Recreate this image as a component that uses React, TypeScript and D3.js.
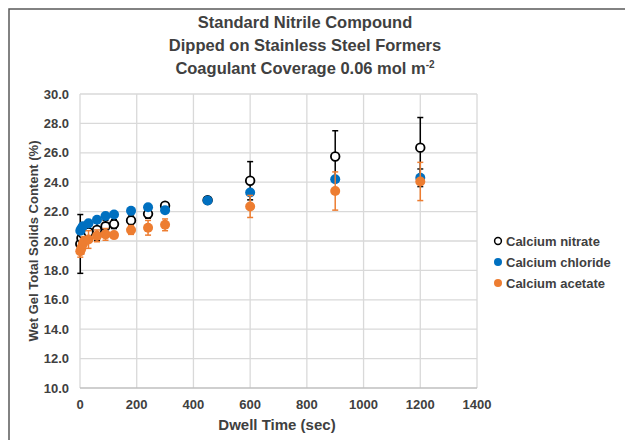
import React from "react";
import * as d3 from "d3";

const titleLines = ["Standard Nitrile Compound", "Dipped on Stainless Steel Formers", "Coagulant Coverage 0.06 mol m"];
const xTicks = [0, 200, 400, 600, 800, 1000, 1200, 1400];
const yTicks = [10, 12, 14, 16, 18, 20, 22, 24, 26, 28, 30];

const nitrateT = [1, 5, 10, 30, 60, 90, 120, 180, 240, 300, 450, 600, 900, 1200];
const nitrateV = [19.8, 20.2, 20.5, 20.6, 20.75, 21.0, 21.15, 21.4, 21.85, 22.4, 22.78, 24.1, 25.75, 26.35];
const nitrateE = [2.0, 0.5, 0.4, 0.5, 0.7, 0.4, 0.3, 0.3, 0.3, 0.2, 0.1, 1.3, 1.75, 2.05];

const chlorideT = [1, 5, 10, 30, 60, 90, 120, 180, 240, 300, 450, 600, 900, 1200];
const chlorideV = [20.7, 20.85, 21.0, 21.2, 21.45, 21.7, 21.8, 22.05, 22.3, 22.1, 22.76, 23.3, 24.2, 24.3];
const chlorideE = [0.15, 0.15, 0.15, 0.15, 0.15, 0.15, 0.1, 0.1, 0.1, 0.1, 0.05, 0.1, 0.1, 0.6];

const acetateT = [1, 5, 10, 15, 30, 60, 90, 120, 180, 240, 300, 600, 900, 1200];
const acetateV = [19.3, 19.5, 19.8, 20.0, 20.1, 20.35, 20.45, 20.4, 20.75, 20.9, 21.1, 22.35, 23.4, 24.05];
const acetateE = [0.4, 0.4, 0.3, 0.3, 0.6, 0.4, 0.4, 0.2, 0.3, 0.5, 0.4, 0.75, 1.3, 1.3];

const seriesNames = ["Calcium nitrate", "Calcium chloride", "Calcium acetate"];

const FONT = "'Liberation Sans', Arial, sans-serif";
const TXT = "#404040";

export default function App() {
  const x = d3.scaleLinear().domain([0, 1400]).range([80, 477]);
  const y = d3.scaleLinear().domain([10, 30]).range([388, 94]);

  const series = [
    { name: seriesNames[0], t: nitrateT, v: nitrateV, e: nitrateE, fill: "#ffffff", stroke: "#000000", sw: 1.8, err: "#000000" },
    { name: seriesNames[1], t: chlorideT, v: chlorideV, e: chlorideE, fill: "#0070C0", stroke: "#0070C0", sw: 0, err: "#1a1a1a" },
    { name: seriesNames[2], t: acetateT, v: acetateV, e: acetateE, fill: "#ED7D31", stroke: "#ED7D31", sw: 0, err: "#ED7D31" },
  ];

  return (
    <svg width={625} height={440} style={{ position: "absolute", left: 0, top: 0, background: "#fff" }} fontFamily={FONT}>
      <rect x={0} y={0} width={625} height={440} fill="#ffffff" />
      <rect x={9} y={9} width={700} height={500} fill="none" stroke="#595959" strokeWidth={1.5} />

      {/* title */}
      <g fontWeight="bold" fontSize={16.5} fill={TXT} textAnchor="middle">
        <text x={305} y={28}>{titleLines[0]}</text>
        <text x={305} y={51}>{titleLines[1]}</text>
        <text x={305} y={74}>
          {titleLines[2]}
          <tspan dy={-6} fontSize={10}>-2</tspan>
        </text>
      </g>

      {/* gridlines */}
      <g stroke="#d9d9d9" strokeWidth={1.3}>
        {yTicks.filter((t) => t > 10).map((t) => (
          <line key={"h" + t} x1={x(0)} x2={x(1400)} y1={y(t)} y2={y(t)} />
        ))}
        {xTicks.map((t) => (
          <line key={"v" + t} x1={x(t)} x2={x(t)} y1={y(30)} y2={y(10)} />
        ))}
      </g>
      <line x1={x(0)} x2={x(1400)} y1={y(10)} y2={y(10)} stroke="#bfbfbf" strokeWidth={1.3} />

      {/* tick labels */}
      <g fontWeight="bold" fontSize={13} fill={TXT}>
        {yTicks.map((t) => (
          <text key={"yl" + t} x={69} y={y(t) + 4.5} textAnchor="end">{t.toFixed(1)}</text>
        ))}
        {xTicks.map((t) => (
          <text key={"xl" + t} x={x(t)} y={408.5} textAnchor="middle">{t}</text>
        ))}
      </g>

      {/* axis titles */}
      <text x={277} y={429.5} textAnchor="middle" fontWeight="bold" fontSize={15} fill={TXT}>Dwell Time (sec)</text>
      <text transform="translate(38,241) rotate(-90)" textAnchor="middle" fontWeight="bold" fontSize={13} fill={TXT}>
        Wet Gel Total Solids Content (%)
      </text>

      {/* series */}
      {series.map((s, si) => (
        <g key={"s" + si}>
          {s.t.map((t, i) => {
            const cx = x(t);
            const top = y(s.v[i] + s.e[i]);
            const bot = y(s.v[i] - s.e[i]);
            return (
              <g key={"e" + i} stroke={s.err} strokeWidth={1.5}>
                <line x1={cx} x2={cx} y1={top} y2={bot} />
                <line x1={cx - 3} x2={cx + 3} y1={top} y2={top} />
                <line x1={cx - 3} x2={cx + 3} y1={bot} y2={bot} />
              </g>
            );
          })}
          {s.t.map((t, i) => (
            <circle key={"m" + i} cx={x(t)} cy={y(s.v[i])} r={s.sw ? 4.3 : 5} fill={s.fill} stroke={s.stroke} strokeWidth={s.sw} />
          ))}
        </g>
      ))}

      {/* legend */}
      <g fontWeight="bold" fontSize={13} fill={TXT}>
        {series.map((s, i) => (
          <g key={"lg" + i} transform={`translate(0,${241 + i * 21})`}>
            <circle cx={498} cy={0} r={s.sw ? 3.4 : 4} fill={s.fill} stroke={s.stroke} strokeWidth={s.sw ? 1.5 : 0} />
            <text x={506} y={4.5}>{s.name}</text>
          </g>
        ))}
      </g>
    </svg>
  );
}
